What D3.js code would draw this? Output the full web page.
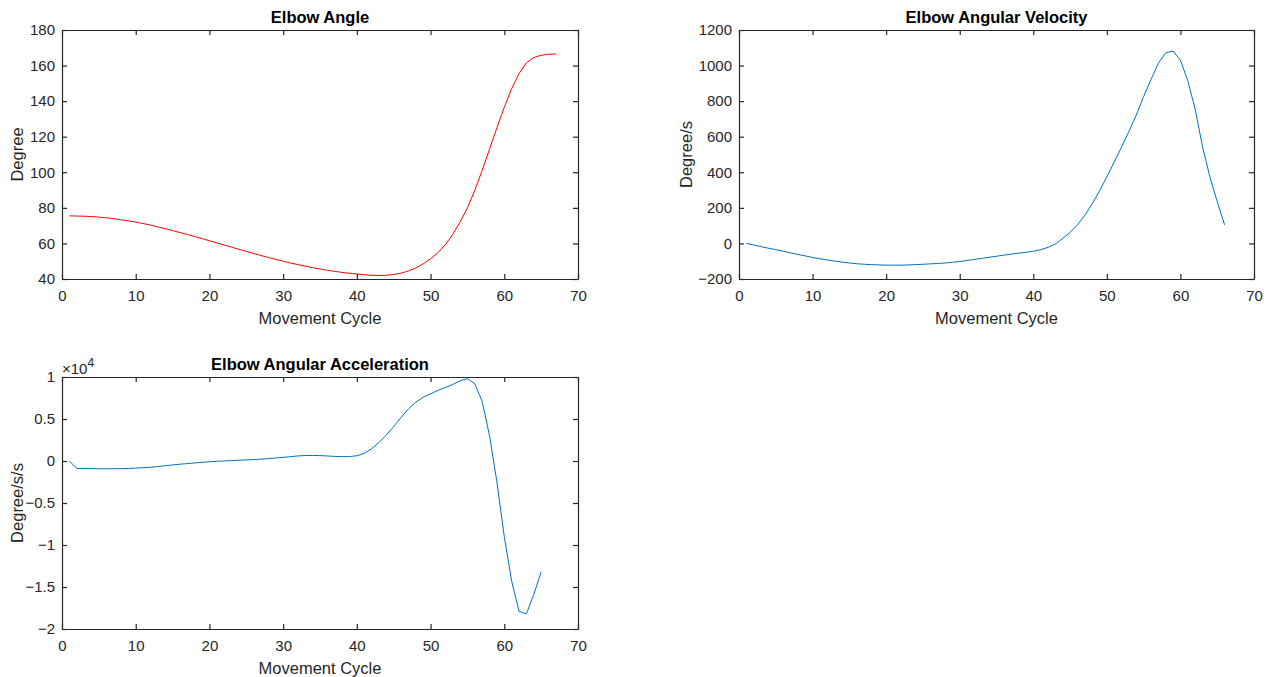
<!DOCTYPE html>
<html>
<head>
<meta charset="utf-8">
<script src="https://cdn.jsdelivr.net/npm/d3@7"></script>
<style>
  body { margin: 0; background: #fff; }
  text { font-family: "Liberation Sans", Arial, sans-serif; }
</style>
</head>
<body>
<svg id="fig" width="1269" height="677"></svg>
<script>
// Elbow angle (degree), samples 1..67
var angle = [75.5, 75.4, 75.3, 75.1, 74.8, 74.4, 73.9, 73.3, 72.7, 72.0,
             71.2, 70.3, 69.3, 68.3, 67.2, 66.1, 65.0, 63.9, 62.7, 61.5,
             60.3, 59.1, 57.9, 56.7, 55.5, 54.4, 53.2, 52.1, 51.0, 50.0,
             49.0, 48.1, 47.2, 46.4, 45.6, 44.9, 44.3, 43.7, 43.2, 42.8,
             42.4, 42.1, 42.0, 42.1, 42.5, 43.3, 44.5, 46.2, 48.5, 51.4,
             54.8, 59.3, 65.0, 72.0, 80.0, 89.8, 101.0, 113.0, 125.0, 136.5,
             147.0, 155.5, 161.5, 164.5, 165.8, 166.3, 166.5];

// Elbow angular velocity (degree/s), samples 1..66
var velocity = [0, -9, -18, -27, -35, -44, -53, -62, -70, -79,
                -86, -93, -99, -105, -110, -114, -117, -119, -121, -122,
                -122, -122, -121, -119, -117, -115, -113, -110, -106, -102,
                -96, -90, -84, -78, -72, -66, -60, -55, -50, -44,
                -36, -22, -3, 28, 62, 105, 158, 222, 295, 375,
                458, 542, 630, 722, 826, 922, 1013, 1072, 1082, 1030,
                915, 755, 545, 375, 235, 105];

// Elbow angular acceleration (degree/s/s), samples 1..65
var accel = [0, -880, -900, -910, -920, -920, -920, -910, -890, -850,
             -800, -740, -660, -570, -470, -380, -310, -230, -160, -90,
             -40, 10, 50, 90, 130, 170, 220, 280, 350, 430,
             520, 600, 650, 660, 640, 600, 550, 520, 530, 620,
             900, 1450, 2200, 3100, 4100, 5200, 6200, 7000, 7600, 8000,
             8400, 8750, 9100, 9550, 9800, 9200, 7100, 3000, -2500, -9000,
             -14300, -17900, -18200, -15900, -13200];

var xTicks = [0, 10, 20, 30, 40, 50, 60, 70];
var angleTicks = [40, 60, 80, 100, 120, 140, 160, 180];
var velTicks = [-200, 0, 200, 400, 600, 800, 1000, 1200];
var accTicks = [-20000, -15000, -10000, -5000, 0, 5000, 10000];

var svg = d3.select("#fig");
var axisColor = "#262626";

function drawPlot(p) {
    var x = d3.scaleLinear().domain([0, 70]).range([p.left, p.right]);
    var y = d3.scaleLinear().domain(p.yDomain).range([p.bottom, p.top]);
    var g = svg.append("g");

    var axes = [
        [d3.axisBottom(x).tickValues(xTicks), "translate(0," + p.bottom + ")", 11],
        [d3.axisTop(x).tickValues(xTicks).tickFormat(""), "translate(0," + p.top + ")", 0],
        [d3.axisLeft(y).tickValues(p.yTicks).tickFormat(p.fmt || d3.format("d")), "translate(" + p.left + ",0)", 7],
        [d3.axisRight(y).tickValues(p.yTicks).tickFormat(""), "translate(" + p.right + ",0)", 0]
    ];
    axes.forEach(function (a) {
        var ax = g.append("g").attr("transform", a[1])
                  .call(a[0].tickSizeInner(-5).tickSizeOuter(0).tickPadding(a[2]));
        ax.select(".domain").attr("stroke", axisColor).attr("stroke-width", 1.2);
        ax.selectAll(".tick line").attr("stroke", axisColor).attr("stroke-width", 1.2);
        ax.selectAll(".tick text").attr("fill", axisColor).style("font-size", "15px")
          .style("font-family", "'Liberation Sans', Arial, sans-serif");
    });

    var line = d3.line().x(function (d, i) { return x(i + 1); }).y(function (d) { return y(d); });
    g.append("path").datum(p.data)
     .attr("fill", "none").attr("stroke", p.color).attr("stroke-width", 1)
     .attr("d", line);

    g.append("text").attr("x", (p.left + p.right) / 2).attr("y", p.top - 7)
     .attr("text-anchor", "middle").style("font-size", "16.5px").style("font-weight", "bold")
     .attr("fill", "#000").text(p.title);

    g.append("text").attr("x", (p.left + p.right) / 2).attr("y", p.bottom + 45)
     .attr("text-anchor", "middle").style("font-size", "16.5px").attr("fill", axisColor)
     .text("Movement Cycle");

    g.append("text")
     .attr("transform", "translate(" + (p.left - p.ylabOff) + "," + ((p.top + p.bottom) / 2) + ") rotate(-90)")
     .attr("text-anchor", "middle").style("font-size", "16.5px").attr("fill", axisColor)
     .text(p.ylabel);
    return g;
}

drawPlot({left: 62, right: 578, top: 30, bottom: 279, yDomain: [40, 180], yTicks: angleTicks,
          data: angle, color: "#ff0000", title: "Elbow Angle", ylabel: "Degree", ylabOff: 39});

drawPlot({left: 739, right: 1254, top: 30, bottom: 279, yDomain: [-200, 1200], yTicks: velTicks,
          data: velocity, color: "#0072bd", title: "Elbow Angular Velocity", ylabel: "Degree/s", ylabOff: 47});

var g3 = drawPlot({left: 62, right: 578, top: 377, bottom: 629, yDomain: [-20000, 10000], yTicks: accTicks,
          fmt: function (d) { return d3.format("~g")(d / 1e4); },
          data: accel, color: "#0072bd", title: "Elbow Angular Acceleration", ylabel: "Degree/s/s", ylabOff: 39});

var exp = g3.append("text").attr("x", 62).attr("y", 374).attr("fill", axisColor).style("font-size", "15px");
exp.append("tspan").text("\u00d710");
exp.append("tspan").attr("dy", -7).style("font-size", "12px").text("4");
</script>
</body>
</html>
